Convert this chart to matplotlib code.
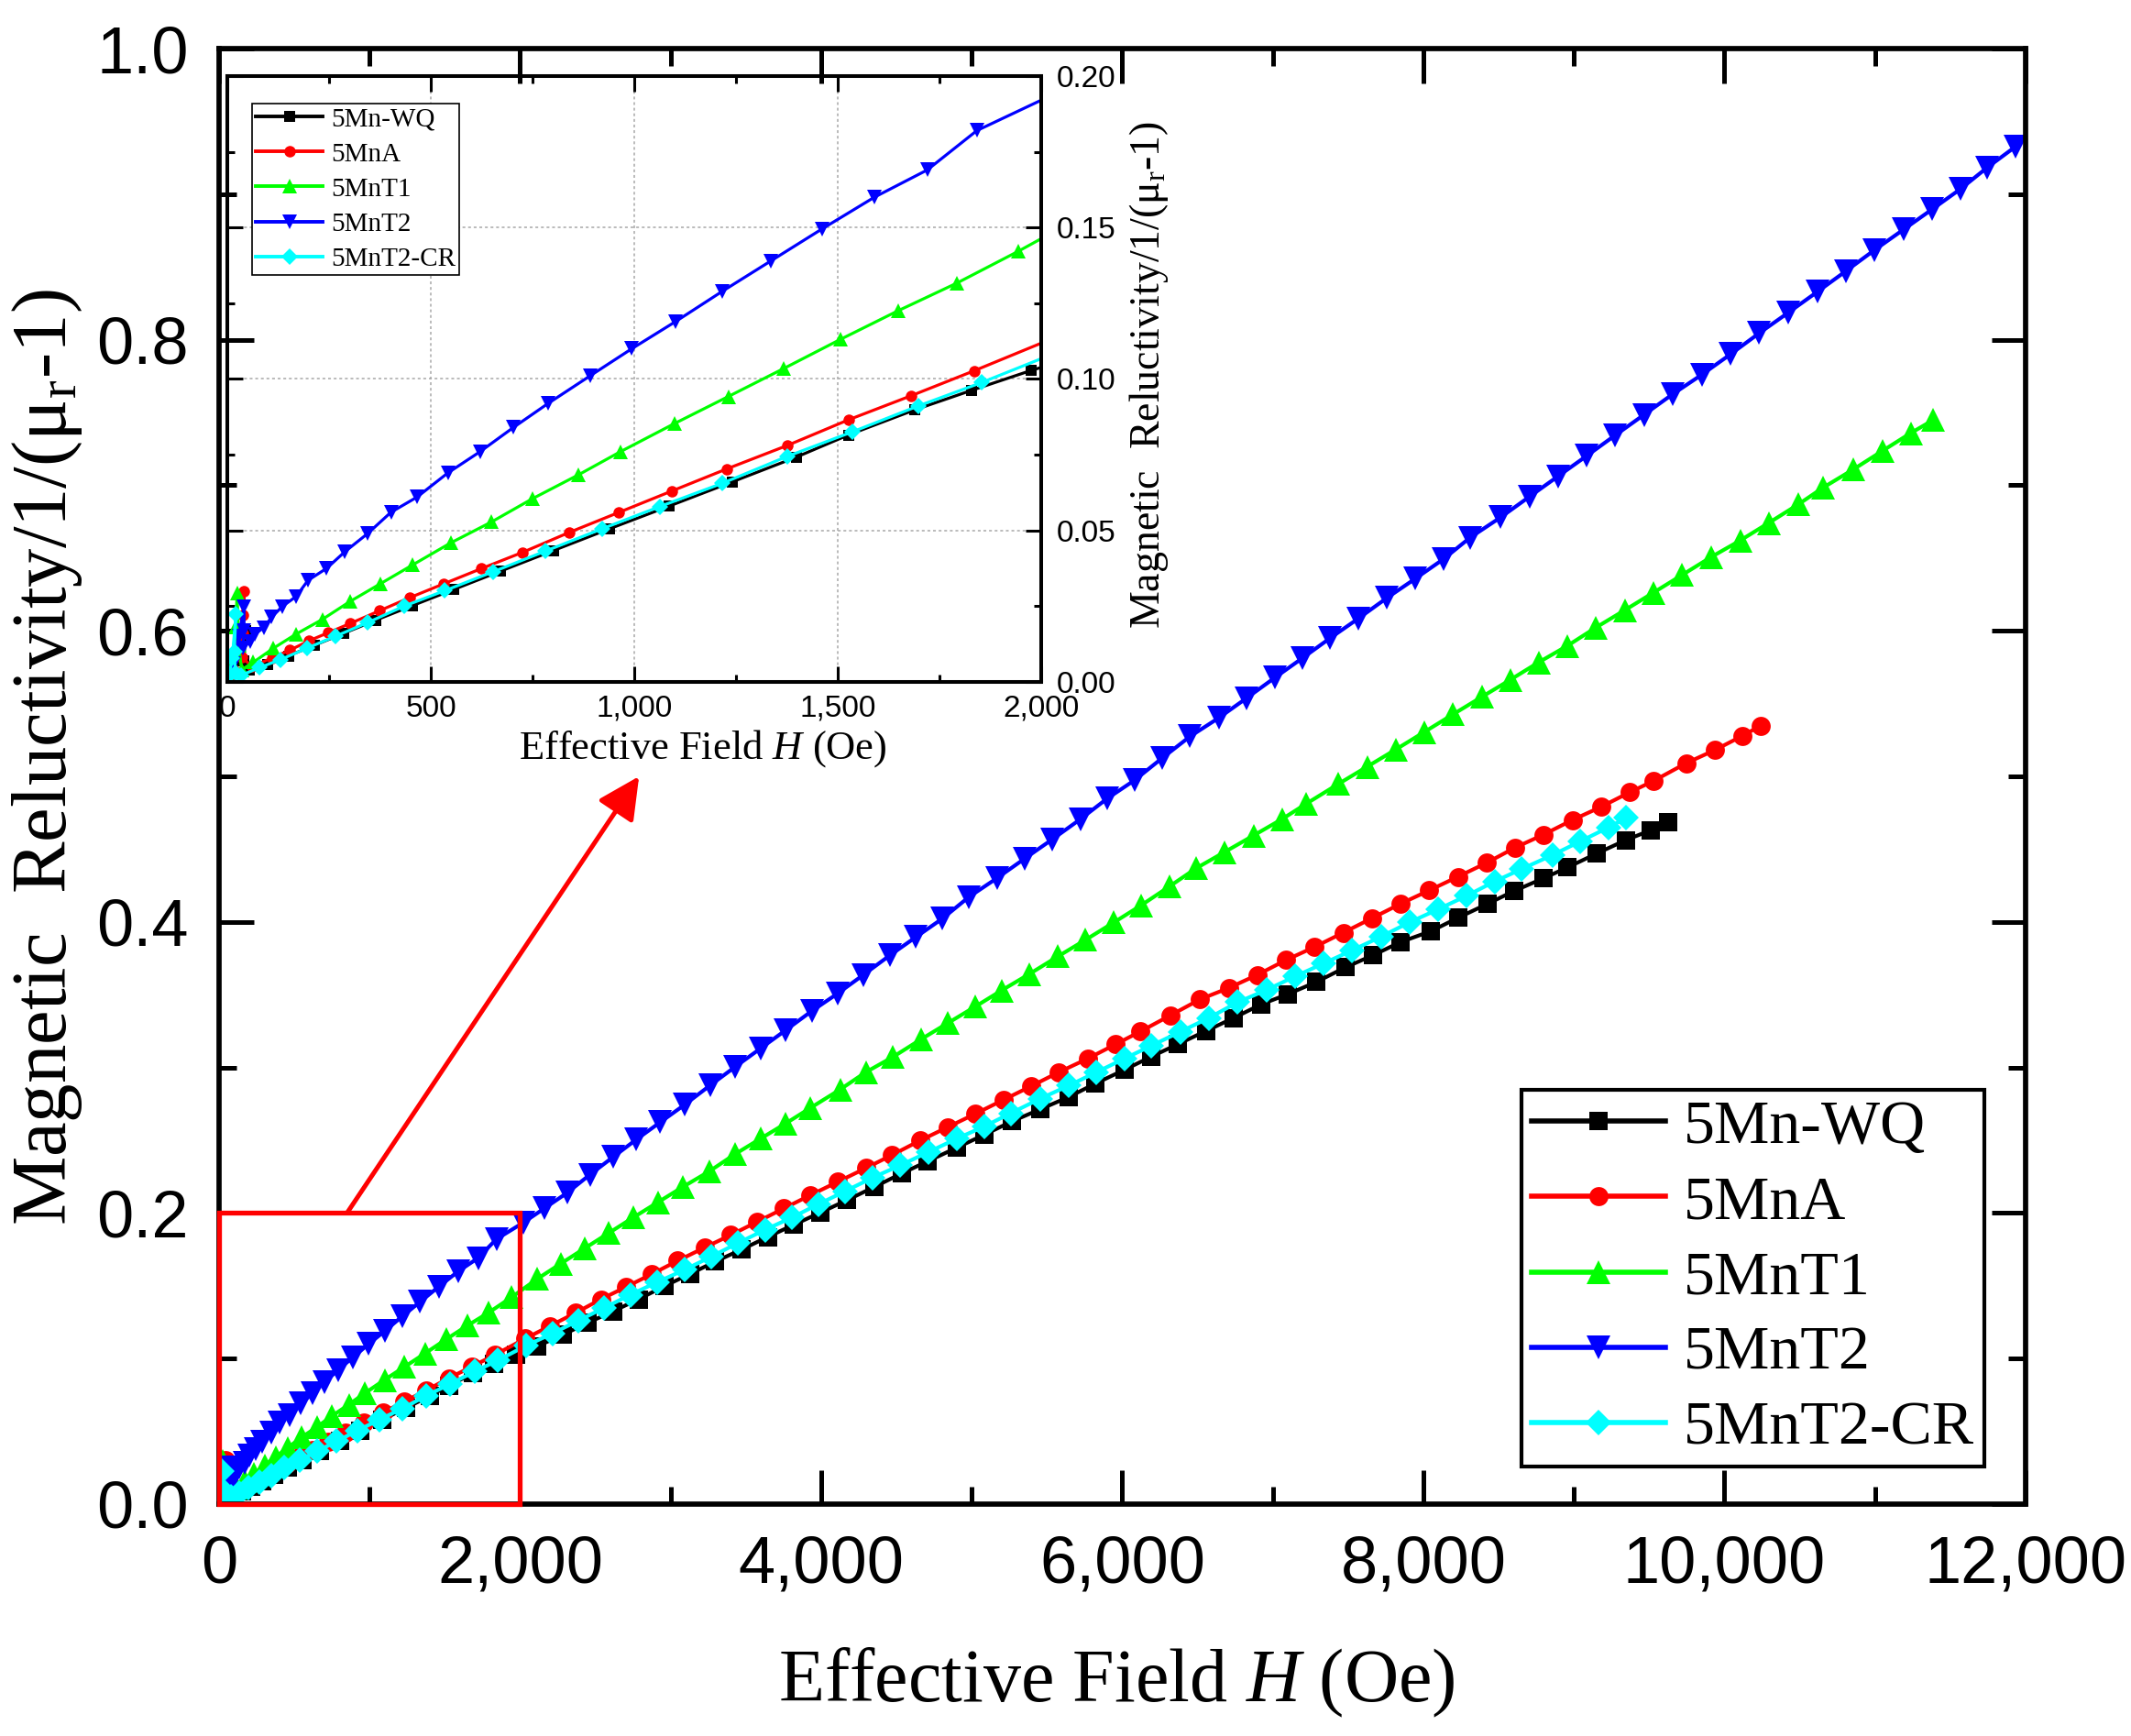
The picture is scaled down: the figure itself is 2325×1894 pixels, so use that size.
import numpy as np
import matplotlib
matplotlib.use("Agg")
import matplotlib.pyplot as plt
from matplotlib.patches import Rectangle
from matplotlib.ticker import FuncFormatter, MultipleLocator

plt.rcParams['font.family'] = ['Liberation Serif', 'DejaVu Serif']
plt.rcParams['mathtext.fontset'] = 'custom'
plt.rcParams['mathtext.rm'] = 'Liberation Serif'
plt.rcParams['mathtext.it'] = 'Liberation Serif:italic'

# ---- data (H in Oe, reluctivity 1/(mu_r-1)) ----
wq_h = [5, 15, 30, 46, 40, 55, 98, 150, 214, 285, 365, 455, 556, 672, 802, 940, 1085, 1240,
        1398, 1526, 1689, 1828, 1975, 2115, 2286, 2449, 2617, 2786, 2957, 3128, 3296, 3473,
        3644, 3818, 3997, 4171, 4351, 4533, 4709, 4899, 5084, 5266, 5456, 5646, 5823, 6013,
        6190, 6370, 6555, 6740, 6924, 7101, 7291, 7481, 7666, 7848, 8052, 8234, 8424, 8604,
        8799, 8957, 9152, 9343, 9511, 9627]
wq_r = [0.002, 0.007, 0.013, 0.017, 0.007, 0.004, 0.0058, 0.0086, 0.0121, 0.016, 0.0204,
        0.0252, 0.0305, 0.0366, 0.0434, 0.0506, 0.058, 0.066, 0.0742, 0.0815, 0.0898, 0.0962,
        0.1028, 0.1085, 0.1165, 0.1245, 0.1325, 0.1407, 0.1497, 0.1581, 0.1666, 0.175, 0.1835,
        0.1919, 0.2004, 0.2088, 0.2178, 0.2271, 0.2356, 0.2448, 0.2538, 0.2629, 0.2713, 0.2798,
        0.289, 0.2983, 0.3073, 0.316, 0.325, 0.334, 0.3434, 0.3504, 0.3588, 0.3687, 0.3771,
        0.3861, 0.3937, 0.403, 0.4123, 0.4213, 0.430, 0.4374, 0.447, 0.4561, 0.463, 0.4686]

a_h = [5, 15, 28, 38, 41, 38, 36, 60, 111, 154, 201, 247, 302, 374, 448, 532, 624, 726, 841,
       961, 1092, 1227, 1375, 1526, 1681, 1835, 2034, 2197, 2367, 2536, 2704, 2876, 3047,
       3229, 3400, 3574, 3753, 3927, 4112, 4296, 4470, 4655, 4839, 5021, 5212, 5394, 5578,
       5769, 5954, 6122, 6320, 6517, 6707, 6897, 7088, 7278, 7468, 7658, 7848, 8038, 8229,
       8419, 8609, 8799, 8990, 9180, 9370, 9528, 9745, 9935, 10117, 10239]
a_r = [0.001, 0.004, 0.012, 0.022, 0.030, 0.016, 0.0083, 0.005, 0.008, 0.0105, 0.0136,
       0.0162, 0.0193, 0.0235, 0.0278, 0.0324, 0.0374, 0.0428, 0.0494, 0.0559, 0.063, 0.0703,
       0.078, 0.0865, 0.0945, 0.1027, 0.1137, 0.1223, 0.1313, 0.1407, 0.1492, 0.1581, 0.1672,
       0.1764, 0.1849, 0.1939, 0.2032, 0.2122, 0.2215, 0.2308, 0.2398, 0.2497, 0.2589, 0.268,
       0.2778, 0.2871, 0.2967, 0.306, 0.3158, 0.3248, 0.3358, 0.3468, 0.3546, 0.3636, 0.3738,
       0.3828, 0.3926, 0.4025, 0.4124, 0.4216, 0.431, 0.4405, 0.451, 0.460, 0.470, 0.479,
       0.489, 0.4968, 0.509, 0.518, 0.5277, 0.5347]

t1_h = [4, 12, 20, 24, 28, 35, 64, 113, 169, 233, 302, 376, 455, 549, 649, 750, 862, 966,
        1099, 1231, 1368, 1507, 1648, 1792, 1943, 2115, 2270, 2427, 2590, 2753, 2916, 3079,
        3255, 3427, 3596, 3764, 3927, 4125, 4296, 4478, 4661, 4840, 5022, 5198, 5383, 5573,
        5755, 5945, 6127, 6314, 6490, 6680, 6871, 7061, 7224, 7436, 7626, 7816, 8007, 8197,
        8387, 8577, 8767, 8957, 9147, 9337, 9528, 9718, 9914, 10104, 10294, 10490, 10656,
        10858, 11051, 11237, 11385]
t1_r = [0.001, 0.006, 0.018, 0.0294, 0.012, 0.004, 0.0065, 0.0111, 0.0158, 0.0206, 0.0266,
        0.0324, 0.0386, 0.0459, 0.0528, 0.0605, 0.0683, 0.076, 0.0853, 0.0942, 0.1035, 0.1131,
        0.1225, 0.1316, 0.1421, 0.1548, 0.1652, 0.1756, 0.1863, 0.197, 0.2074, 0.2178, 0.2285,
        0.2404, 0.251, 0.2615, 0.2721, 0.2848, 0.2967, 0.3073, 0.3192, 0.3304, 0.3417, 0.3529,
        0.3642, 0.3763, 0.3876, 0.3997, 0.4115, 0.4244, 0.4368, 0.448, 0.4593, 0.4706, 0.4813,
        0.4948, 0.5066, 0.5184, 0.5305, 0.5426, 0.5545, 0.5663, 0.5784, 0.5897, 0.6023, 0.6141,
        0.6262, 0.6383, 0.6508, 0.662, 0.6741, 0.6868, 0.6984, 0.711, 0.7237, 0.7358, 0.7447]

t2_h = [5, 15, 28, 41, 41, 38, 56, 68, 89, 109, 135, 169, 198, 244, 289, 345, 402, 466, 542,
        621, 703, 789, 891, 994, 1102, 1217, 1336, 1461, 1590, 1720, 1842, 2020, 2161, 2313,
        2463, 2617, 2772, 2930, 3093, 3261, 3427, 3596, 3764, 3938, 4112, 4280, 4457, 4628,
        4804, 4981, 5171, 5353, 5532, 5722, 5899, 6081, 6268, 6450, 6640, 6825, 7012, 7196,
        7381, 7569, 7758, 7946, 8134, 8310, 8514, 8704, 8895, 9085, 9275, 9465, 9655, 9850,
        10043, 10231, 10424, 10617, 10805, 10998, 11191, 11381, 11570, 11742, 11934]
t2_r = [0.001, 0.006, 0.015, 0.0249, 0.0168, 0.0113, 0.0133, 0.0158, 0.0179, 0.0214, 0.0249,
        0.0282, 0.0335, 0.0375, 0.043, 0.049, 0.056, 0.061, 0.069, 0.076, 0.084, 0.092, 0.101,
        0.110, 0.119, 0.129, 0.139, 0.1495, 0.160, 0.169, 0.182, 0.1933, 0.2032, 0.2139,
        0.2263, 0.2384, 0.2505, 0.2623, 0.2744, 0.2876, 0.3003, 0.313, 0.3256, 0.3388, 0.351,
        0.3636, 0.3771, 0.3895, 0.4022, 0.4171, 0.4303, 0.4436, 0.4565, 0.4706, 0.4847, 0.4973,
        0.5128, 0.5274, 0.5401, 0.5537, 0.5677, 0.5812, 0.595, 0.6085, 0.6226, 0.6358, 0.6493,
        0.664, 0.678, 0.6921, 0.7062, 0.7202, 0.7344, 0.7484, 0.7625, 0.776, 0.7902, 0.8045,
        0.8186, 0.8329, 0.847, 0.8617, 0.8758, 0.8897, 0.9037, 0.918, 0.9327]

cr_h = [4, 12, 21, 17, 20, 34, 79, 131, 195, 266, 345, 434, 534, 652, 782, 920, 1063, 1217,
        1375, 1537, 1698, 1853, 2041, 2216, 2387, 2558, 2732, 2911, 3093, 3269, 3446, 3628,
        3807, 3981, 4160, 4342, 4524, 4715, 4899, 5084, 5258, 5456, 5646, 5828, 6013, 6195,
        6385, 6575, 6767, 6957, 7147, 7338, 7528, 7718, 7908, 8099, 8289, 8474, 8650, 8859,
        9044, 9229, 9348]
cr_r = [0.002, 0.008, 0.0224, 0.010, 0.003, 0.0022, 0.0047, 0.0074, 0.0111, 0.0151, 0.0196,
        0.025, 0.0301, 0.0363, 0.0432, 0.0505, 0.0579, 0.0656, 0.0744, 0.0826, 0.0911, 0.0988,
        0.1089, 0.1173, 0.1261, 0.1348, 0.1438, 0.1525, 0.161, 0.17, 0.1793, 0.1885, 0.197,
        0.206, 0.215, 0.2243, 0.2327, 0.242, 0.251, 0.2595, 0.2685, 0.2786, 0.2876, 0.2967,
        0.306, 0.315, 0.3245, 0.334, 0.3448, 0.3532, 0.3625, 0.3715, 0.3805, 0.3898, 0.3997,
        0.4087, 0.418, 0.4278, 0.4362, 0.446, 0.4554, 0.4649, 0.4714]

labels = ['5Mn-WQ', '5MnA', '5MnT1', '5MnT2', '5MnT2-CR']
colors = ['#000000', '#ff0000', '#00ff00', '#0000ff', '#00ffff']
markers = ['s', 'o', '^', 'v', 'D']
series = [(wq_h, wq_r), (a_h, a_r), (t1_h, t1_r), (t2_h, t2_r), (cr_h, cr_r)]

# zoomed range shown in the inset
zoom_x = (0, 2000)
zoom_y = (0, 0.2)

main_ms = [14, 15, 19, 19, 14.5]
inset_ms = [8, 9, 11.5, 11.5, 9]

ylab = 'Magnetic  Reluctivity/1/(\u03bc$_\\mathregular{r}$-1)'
xlab = 'Effective Field $\\mathit{H}$ (Oe)'
fmt_comma = FuncFormatter(lambda v, p: f'{v:,.0f}')

fig = plt.figure(figsize=(23.25, 18.94), dpi=100)
ax = fig.add_axes([0.1028, 0.1336, 0.8477, 0.8384])

for (h, r), lab, c, m, ms in zip(series, labels, colors, markers, main_ms):
    ax.plot(h, r, color=c, marker=m, ms=ms, lw=3, label=lab, markeredgewidth=0)

ax.set_xlim(0, 12000)
ax.set_ylim(0, 1.0)
ax.xaxis.set_major_locator(MultipleLocator(2000))
ax.xaxis.set_minor_locator(MultipleLocator(1000))
ax.yaxis.set_major_locator(MultipleLocator(0.2))
ax.yaxis.set_minor_locator(MultipleLocator(0.1))
ax.xaxis.set_major_formatter(fmt_comma)
ax.yaxis.set_major_formatter(FuncFormatter(lambda v, p: f'{v:.1f}'))
ax.tick_params(which='both', direction='in', top=True, right=True, width=3.6,
               labelsize=52, pad=24, labelfontfamily='Liberation Sans')
ax.tick_params(which='major', length=27)
ax.tick_params(which='minor', length=14)
for s in ax.spines.values():
    s.set_linewidth(4.1)

ax.set_xlabel(xlab, fontsize=59, va='center')
ax.xaxis.set_label_coords(0.497, -0.123)
ax.set_ylabel(ylab, fontsize=61, va='center')
ax.yaxis.set_label_coords(-0.095, 0.513)

leg = ax.legend(loc='lower right', bbox_to_anchor=(0.977, 0.026), fontsize=49,
                frameon=True, fancybox=False, edgecolor='black', framealpha=1,
                handlelength=2.15, handletextpad=0.3, labelspacing=0.3,
                borderpad=0.15, borderaxespad=0)
leg.get_frame().set_linewidth(3)
for ln in leg.get_lines():
    ln.set_linewidth(4)

# red box around the zoomed region and arrow to the inset
ax.add_patch(Rectangle((zoom_x[0], zoom_y[0]), zoom_x[1] - zoom_x[0], zoom_y[1] - zoom_y[0],
                       fill=False, edgecolor='red', lw=3.8, zorder=6, clip_on=False))
ax.annotate('', xy=(2790, 0.50), xytext=(850, zoom_y[1]),
            arrowprops=dict(arrowstyle='-|>', color='red', lw=3.6, mutation_scale=70,
                            shrinkA=0, shrinkB=0))

# ---- inset ----
ax2 = fig.add_axes([0.1067, 0.6072, 0.3819, 0.349])
ax2.patch.set_alpha(0)
for (h, r), lab, c, m, ms in zip(series, labels, colors, markers, inset_ms):
    ax2.plot(h, r, color=c, marker=m, ms=ms, lw=2.3, label=lab, markeredgewidth=0)
ax2.set_xlim(*zoom_x)
ax2.set_ylim(*zoom_y)
ax2.xaxis.set_major_locator(MultipleLocator(500))
ax2.xaxis.set_minor_locator(MultipleLocator(250))
ax2.yaxis.set_major_locator(MultipleLocator(0.05))
ax2.yaxis.set_minor_locator(MultipleLocator(0.025))
ax2.xaxis.set_major_formatter(fmt_comma)
ax2.yaxis.set_major_formatter(FuncFormatter(lambda v, p: f'{v:.2f}'))
ax2.grid(True, which='major', color='#a8a8a8', linestyle=(0, (2, 2)), linewidth=1.1)
ax2.tick_params(which='both', direction='in', top=True, right=True, left=True,
                labelleft=False, labelright=True, width=2.2, labelsize=24,
                labelfontfamily='Liberation Sans')
ax2.tick_params(axis='x', pad=10)
ax2.tick_params(axis='y', pad=12)
ax2.tick_params(which='major', length=12)
ax2.tick_params(which='minor', length=6)
for s in ax2.spines.values():
    s.set_linewidth(2.9)
ax2.yaxis.set_label_position('right')
ax2.set_xlabel(xlab, fontsize=32, va='center')
ax2.xaxis.set_label_coords(0.584, -0.11)
ax2.set_ylabel(ylab, fontsize=33, va='center', rotation=90)
ax2.yaxis.set_label_coords(1.132, 0.507)

leg2 = ax2.legend(loc='upper left', bbox_to_anchor=(0.03, 0.955), fontsize=21,
                  frameon=True, fancybox=False, edgecolor='black', framealpha=1,
                  handlelength=2.5, handletextpad=0.3, labelspacing=0.4,
                  borderpad=0.15, borderaxespad=0)
leg2.get_frame().set_linewidth(1.2)
for ln in leg2.get_lines():
    ln.set_linewidth(2.8)

fig.savefig('out.png', dpi=100)
